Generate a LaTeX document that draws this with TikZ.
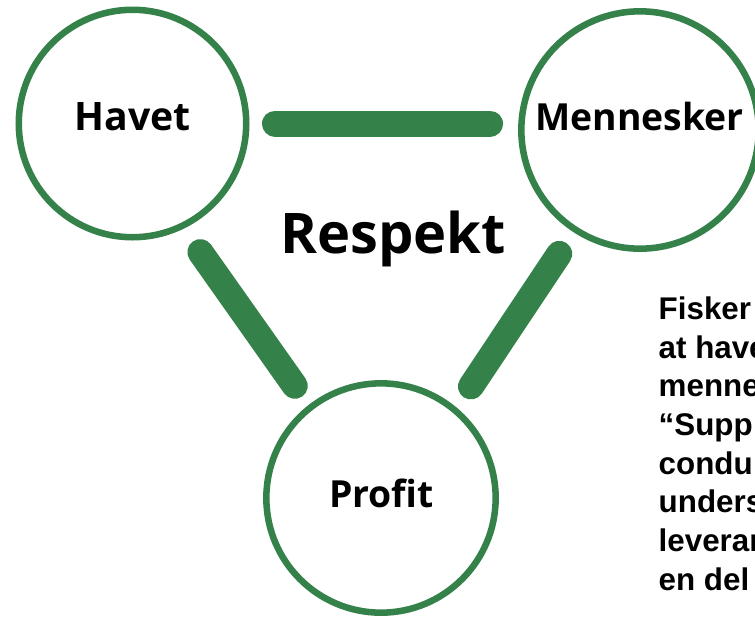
\documentclass[tikz,border=0pt]{standalone}
\usepackage{fontspec}
\setmainfont{Open Sans}
\newfontfamily\notefont{Liberation Sans}
\usepackage{tikz}
\definecolor{leafgreen}{RGB}{52,129,74}
\tikzstyle{ring}=[circle, draw=leafgreen, line width=4.9pt, inner sep=0pt]
\tikzstyle{bar}=[draw=leafgreen, line width=19.5pt, line cap=round]
\tikzstyle{word}=[anchor=base, font=\fontsize{29.4}{34}\selectfont\bfseries]

\begin{document}
\begin{tikzpicture}[x=0.75pt, y=-0.75pt]
		   \useasboundingbox (0,0) rectangle (755,618);
		   \clip (0,0) rectangle (755,618);
		   % the three circles
		   \node (havet) at (132.5,123.5)[ring, minimum size=170.6pt] {};
		   \node (mennesker) at (640,130)[ring, minimum size=178pt] {};
		   \node (profit) at (381,498)[ring, minimum size=172pt] {};
		   \node (havettxt) at (132.5,130)[word] {Havet};
		   \node (mennesketxt) at (639.5,130)[word, font=\fontsize{28}{34}\selectfont\bfseries] {Mennesker};
		   \node (profittxt) at (381.5,507)[word, font=\fontsize{28}{34}\selectfont\bfseries] {Profit};
		   % bars between them
		   \draw[bar, shorten <=19.1pt, shorten >=21pt] (havet.east) -- (havet.east -| mennesker.west);
		   \draw[bar, shorten <=21.5pt, shorten >=17.7pt] (havet.-64.6) -- (profit.128.4);
		   \draw[bar, shorten <=19.4pt, shorten >=19.1pt] (mennesker.-123.7) -- (profit.50.7);
		   \node (respekt) at (393,253)[anchor=base, font=\fontsize{42}{50}\selectfont\bfseries] {Respekt};
		   % text cut off at the right edge
		   \node (note) at (654,590)[anchor=base west, align=left, font=\notefont\bfseries\fontsize{23.5}{29}\selectfont] {
			   Fisker\\
			   at have\\
			   menne\\
			   “Supp\\
			   condu\\
			   unders\\
			   leveran\\
			   en del
		   };
\end{tikzpicture}
\end{document}
